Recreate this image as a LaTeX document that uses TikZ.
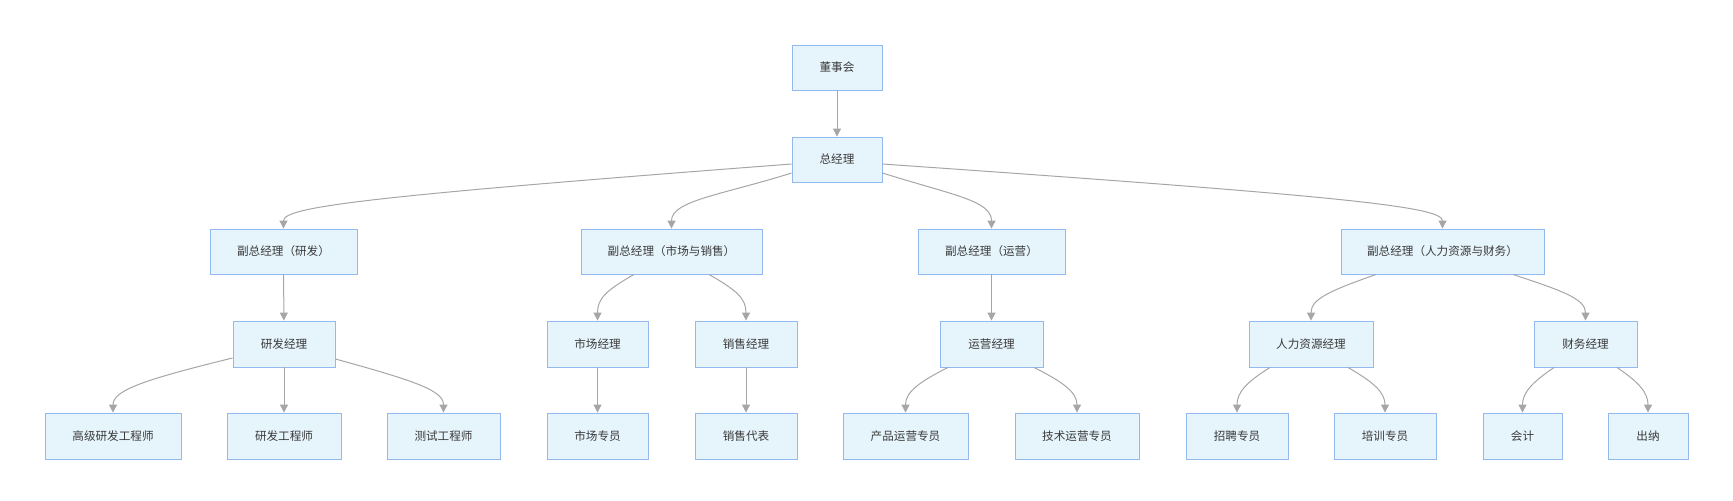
\documentclass[tikz,border=0pt]{standalone}
\usepackage{fontspec}
\newfontfamily\cjk{Noto Sans CJK SC}
\usetikzlibrary{arrows.meta,calc}
\definecolor{boxfill}{HTML}{E6F4FC}
\definecolor{boxline}{HTML}{94B8F0}
\definecolor{edgecol}{HTML}{A6A6A6}
\definecolor{txt}{HTML}{3A3A3A}
\tikzset{
  box/.style={draw=boxline, fill=boxfill, line width=0.45pt, inner sep=0pt,
    text=txt, font=\cjk\fontsize{5.8}{6}\selectfont, minimum height=22.5pt},
  edge/.style={draw=edgecol, line width=0.5pt, -{Triangle[length=4pt,width=4pt]}}
}
\begin{document}
\begin{tikzpicture}[x=0.5pt,y=-0.5pt]
\useasboundingbox (0,0) rectangle (1733,500);
% level 1-2
\node[box, minimum width=45pt] (dsh) at (837,67.5) {董事会};
\node[box, minimum width=45pt] (zjl) at (837,159.5) {总经理};
% level 3
\node[box, minimum width=73.5pt] (yf) at (283.5,251.5) {副总经理（研发）};
\node[box, minimum width=90.5pt] (sc) at (671.5,251.5) {副总经理（市场与销售）};
\node[box, minimum width=73.5pt] (yy) at (991.5,251.5) {副总经理（运营）};
\node[box, minimum width=101.5pt] (rl) at (1442.5,251.5) {副总经理（人力资源与财务）};
% level 4
\node[box, minimum width=51pt, minimum height=23pt] (yfjl) at (284,344) {研发经理};
\node[box, minimum width=50.5pt, minimum height=23pt] (scjl) at (597.5,344) {市场经理};
\node[box, minimum width=51pt, minimum height=23pt] (xsjl) at (746,344) {销售经理};
\node[box, minimum width=51.5pt, minimum height=23pt] (yyjl) at (991.5,344) {运营经理};
\node[box, minimum width=62pt, minimum height=23pt] (rljl) at (1311,344) {人力资源经理};
\node[box, minimum width=51.5pt, minimum height=23pt] (cwjl) at (1585.5,344) {财务经理};
% level 5
\node[box, minimum width=68pt, minimum height=23pt] (gj) at (113,436) {高级研发工程师};
\node[box, minimum width=57pt, minimum height=23pt] (yfgcs) at (284,436) {研发工程师};
\node[box, minimum width=56.5pt, minimum height=23pt] (csgcs) at (443.5,436) {测试工程师};
\node[box, minimum width=50.5pt, minimum height=23pt] (sczy) at (597.5,436) {市场专员};
\node[box, minimum width=51pt, minimum height=23pt] (xsdb) at (746,436) {销售代表};
\node[box, minimum width=62.5pt, minimum height=23pt] (cp) at (905.5,436) {产品运营专员};
\node[box, minimum width=62pt, minimum height=23pt] (js) at (1077,436) {技术运营专员};
\node[box, minimum width=51pt, minimum height=23pt] (zp) at (1237,436) {招聘专员};
\node[box, minimum width=51pt, minimum height=23pt] (px) at (1385,436) {培训专员};
\node[box, minimum width=39.5pt, minimum height=23pt] (kj) at (1522.5,436) {会计};
\node[box, minimum width=40pt, minimum height=23pt] (cn) at (1648,436) {出纳};
% edges
\draw[edge] (dsh) -- (zjl);
\draw[edge] ($(zjl.west)+(0,4.5)$) .. controls +(-420,32) and +(0,-22) .. (yf.north);
\draw[edge] ($(zjl.west)+(0,13.5)$) .. controls +(-70,22) and +(0,-28) .. (sc.north);
\draw[edge] ($(zjl.east)+(0,13.5)$) .. controls +(70,22) and +(0,-28) .. (yy.north);
\draw[edge] ($(zjl.east)+(0,4.5)$) .. controls +(460,32) and +(0,-22) .. (rl.north);
\draw[edge] (yf) -- (yfjl);
\draw[edge] ($(sc.south)+(-37.5,0)$) .. controls +(-28,16) and +(0,-22) .. (scjl.north);
\draw[edge] ($(sc.south)+(37.5,0)$) .. controls +(28,16) and +(0,-22) .. (xsjl.north);
\draw[edge] (yy) -- (yyjl);
\draw[edge] ($(rl.south)+(-66.5,0)$) .. controls +(-45,16) and +(0,-22) .. (rljl.north);
\draw[edge] ($(rl.south)+(70.5,0)$) .. controls +(48,16) and +(0,-22) .. (cwjl.north);
\draw[edge] ($(yfjl.west)+(0,14)$) .. controls +(-90,22) and +(0,-22) .. (gj.north);
\draw[edge] (yfjl) -- (yfgcs);
\draw[edge] ($(yfjl.east)+(0,15)$) .. controls +(80,22) and +(0,-22) .. (csgcs.north);
\draw[edge] (scjl) -- (sczy);
\draw[edge] (xsjl) -- (xsdb);
\draw[edge] ($(yyjl.south)+(-43.5,0)$) .. controls +(-30,15) and +(0,-20) .. (cp.north);
\draw[edge] ($(yyjl.south)+(42.5,0)$) .. controls +(30,15) and +(0,-20) .. (js.north);
\draw[edge] ($(rljl.south)+(-41,0)$) .. controls +(-24,15) and +(0,-20) .. (zp.north);
\draw[edge] ($(rljl.south)+(37,0)$) .. controls +(26,15) and +(0,-20) .. (px.north);
\draw[edge] ($(cwjl.south)+(-31.5,0)$) .. controls +(-22,15) and +(0,-20) .. (kj.north);
\draw[edge] ($(cwjl.south)+(31.5,0)$) .. controls +(22,15) and +(0,-20) .. (cn.north);
\end{tikzpicture}
\end{document}
